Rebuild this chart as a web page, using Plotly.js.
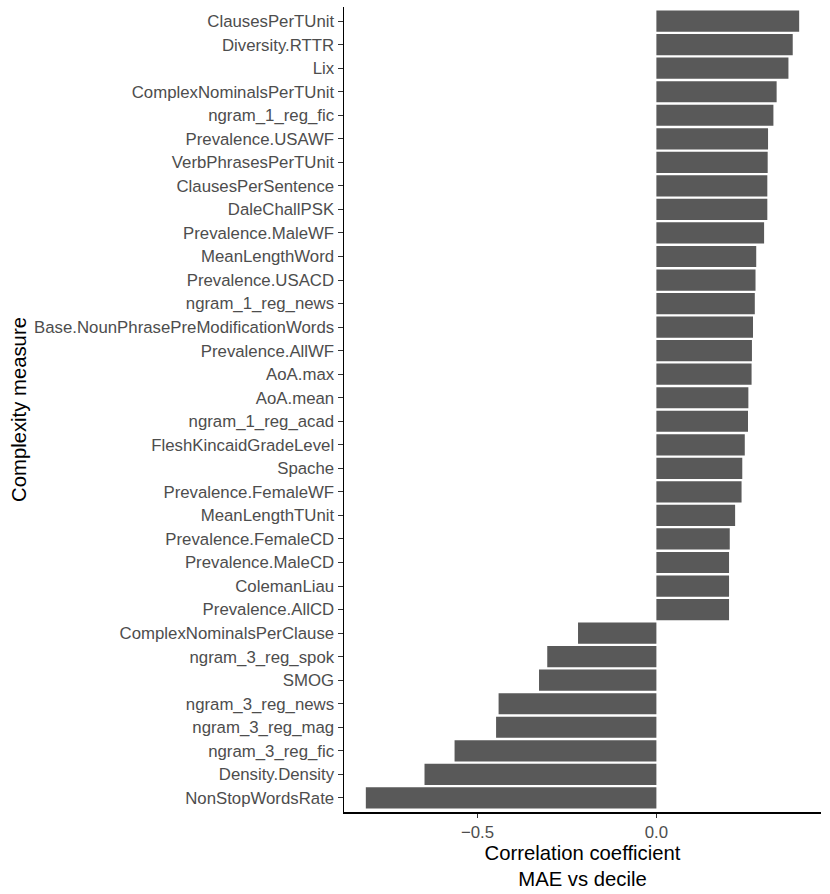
<!DOCTYPE html>
<html>
<head>
<meta charset="utf-8">
<script src="https://cdn.plot.ly/plotly-3.0.1.min.js"></script>
<style>
  html, body { margin: 0; padding: 0; background: #fff; }
  #chart { width: 830px; height: 894px; }
</style>
</head>
<body>
<div id="chart"></div>
<script>
// 복잡도 지표별 상관계수 (MAE vs decile). 위 → 아래 순서.
const measures = [
  'ClausesPerTUnit', 'Diversity.RTTR', 'Lix', 'ComplexNominalsPerTUnit', 'ngram_1_reg_fic',
  'Prevalence.USAWF', 'VerbPhrasesPerTUnit', 'ClausesPerSentence', 'DaleChallPSK', 'Prevalence.MaleWF',
  'MeanLengthWord', 'Prevalence.USACD', 'ngram_1_reg_news', 'Base.NounPhrasePreModificationWords',
  'Prevalence.AllWF', 'AoA.max', 'AoA.mean', 'ngram_1_reg_acad', 'FleshKincaidGradeLevel', 'Spache',
  'Prevalence.FemaleWF', 'MeanLengthTUnit', 'Prevalence.FemaleCD', 'Prevalence.MaleCD', 'ColemanLiau',
  'Prevalence.AllCD', 'ComplexNominalsPerClause', 'ngram_3_reg_spok', 'SMOG', 'ngram_3_reg_news',
  'ngram_3_reg_mag', 'ngram_3_reg_fic', 'Density.Density', 'NonStopWordsRate',
];
const corr = [
  0.399, 0.381, 0.369, 0.336, 0.327,
  0.312, 0.311, 0.310, 0.310, 0.301,
  0.279, 0.277, 0.275, 0.270,
  0.267, 0.266, 0.257, 0.256, 0.247, 0.240,
  0.238, 0.220, 0.205, 0.203, 0.203,
  0.203, -0.219, -0.305, -0.328, -0.441,
  -0.448, -0.564, -0.648, -0.812,
];
const xTickVals = [-0.5, 0];
const xTickText = ['\u22120.5', '0.0'];

const FONT = '"Liberation Sans", Arial, Helvetica, sans-serif';
const GREY30 = '#4d4d4d';

const trace = {
  type: 'bar', orientation: 'h',
  x: corr, y: measures,
  width: 0.9,
  marker: { color: '#595959', line: { width: 0 } },
  hoverinfo: 'x+y',
};

const layout = {
  width: 830, height: 894,
  paper_bgcolor: '#fff', plot_bgcolor: '#fff',
  font: { family: FONT, color: GREY30, size: 16.8 },
  margin: { l: 344, r: 9, t: 7, b: 82 },
  showlegend: false,
  bargap: 0.1,
  xaxis: {
    range: [-0.873, 0.460],
    tickvals: xTickVals, ticktext: xTickText,
    ticks: 'outside', ticklen: 4, tickwidth: 1, tickcolor: '#333',
    showline: true, linecolor: '#000', linewidth: 1.5,
    showgrid: false, zeroline: false,
    tickfont: { family: FONT, size: 16.8, color: GREY30 },
    title: { text: 'Correlation coefficient<br>MAE vs decile', standoff: 2,
      font: { family: FONT, size: 20.3, color: '#000' } },
  },
  yaxis: {
    type: 'category',
    categoryorder: 'array', categoryarray: measures.slice().reverse(),
    range: [-0.6, measures.length - 0.4],
    ticks: 'outside', ticklen: 5, tickwidth: 1, tickcolor: '#333',
    showline: true, linecolor: '#000', linewidth: 1.5,
    showgrid: false, zeroline: false,
    tickfont: { family: FONT, size: 16.8, color: GREY30 },
    title: { text: 'Complexity measure', standoff: 2,
      font: { family: FONT, size: 20.3, color: '#000' } },
  },
};

Plotly.newPlot('chart', [trace], layout, { displayModeBar: false, staticPlot: true });
</script>
</body>
</html>
